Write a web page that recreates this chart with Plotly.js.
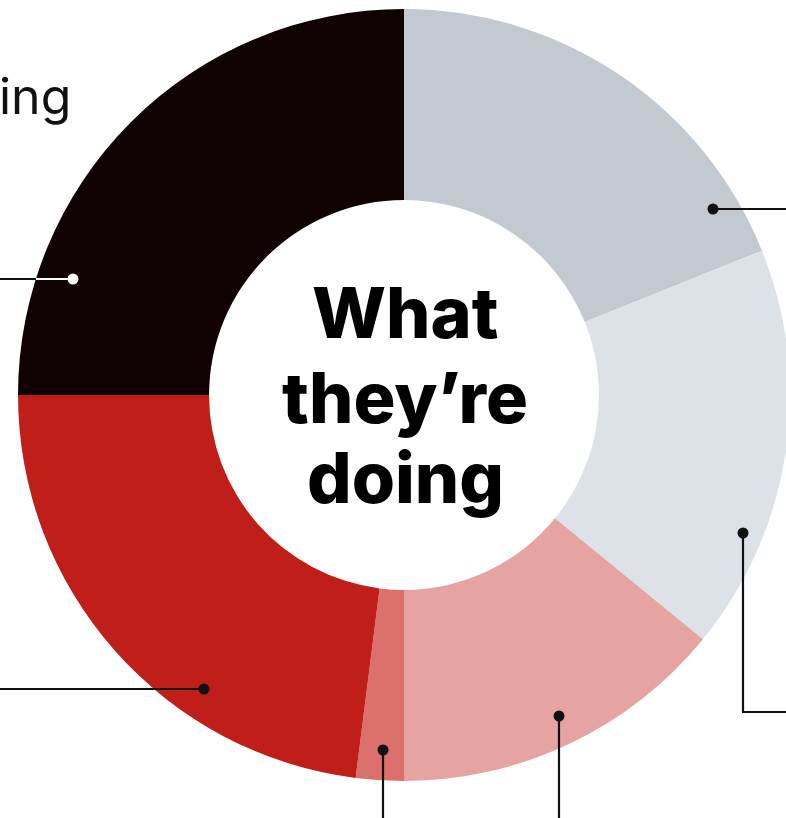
<!DOCTYPE html>
<html>
<head>
<meta charset="utf-8">
<script src="https://cdn.plot.ly/plotly-3.0.1.min.js"></script>
<style>
html,body{margin:0;padding:0;overflow:hidden;background:#fff;}
#chart{width:800px;height:818px;}
</style>
</head>
<body>
<div id="chart"></div>
<script>
// Data (clockwise from 12 o'clock)
const categories = ["Segment A", "Segment B", "Segment C", "Segment D", "Segment E", "Segment F"];
const shares = [18.9, 17.0, 14.1, 2.0, 23.0, 25.0];
const colors = ["#c2c9d0", "#dce2e7", "#e5a4a2", "#db706c", "#c01e18", "#100202"];
const centerLines = ["What", "they\u2019re", "doing"];
const sideLabel = "ing";

const W = 800, H = 818;
const px = x => x / W;
const py = y => 1 - y / H;

const trace = {
  type: "pie",
  labels: categories,
  values: shares,
  sort: false,
  direction: "clockwise",
  rotation: 0,
  hole: 0.505,
  textinfo: "none",
  hoverinfo: "label+percent",
  marker: {colors: colors, line: {width: 0}},
  domain: {x: [px(18), px(790)], y: [py(781), py(9)]},
  showlegend: false
};

// callout dots and leader lines (pixel positions)
const shapes = [];
function seg(x0, y0, x1, y1, color) {
  shapes.push({type: "line", xref: "paper", yref: "paper",
    x0: px(x0), y0: py(y0), x1: px(x1), y1: py(y1),
    line: {color: color, width: 2.2}});
}
function dot(x, y, color) {
  const r = 5.5;
  shapes.push({type: "circle", xref: "paper", yref: "paper",
    x0: px(x - r), y0: py(y + r), x1: px(x + r), y1: py(y - r),
    fillcolor: color, line: {width: 0}});
}
// black slice callout
seg(0, 279, 36, 279, "#111");
seg(36, 279, 73, 279, "#fff");
dot(73, 279, "#fff");
// gray 1
seg(713, 209, 800, 209, "#111");
dot(713, 209, "#111");
// gray 2
seg(743, 533, 743, 712, "#111");
seg(742, 712, 800, 712, "#111");
dot(743, 533, "#111");
// pink
seg(559, 716, 559, 830, "#111");
dot(559, 716, "#111");
// small pink
seg(383, 750, 383, 830, "#111");
dot(383, 750, "#111");
// red
seg(0, 689, 204, 689, "#111");
dot(204, 689, "#111");

const centerY = [312, 397, 477];
const annotations = centerLines.map((t, i) => ({
  text: t, xref: "paper", yref: "paper",
  x: px(405), y: py(centerY[i]), xanchor: "center", yanchor: "middle",
  showarrow: false,
  font: {family: "Inter, Roboto, sans-serif", size: 70, weight: 800, color: "#000"}
}));
annotations.push({
  text: sideLabel, xref: "paper", yref: "paper",
  x: px(73), y: py(96), xanchor: "right", yanchor: "middle",
  showarrow: false,
  font: {family: "Inter, Roboto, sans-serif", size: 50, weight: 400, color: "#111"}
});

const layout = {
  width: W, height: H,
  margin: {l: 0, r: 0, t: 0, b: 0},
  paper_bgcolor: "#fff",
  shapes: shapes,
  annotations: annotations
};

Plotly.newPlot("chart", [trace], layout, {displayModeBar: false, staticPlot: true});
</script>
</body>
</html>
